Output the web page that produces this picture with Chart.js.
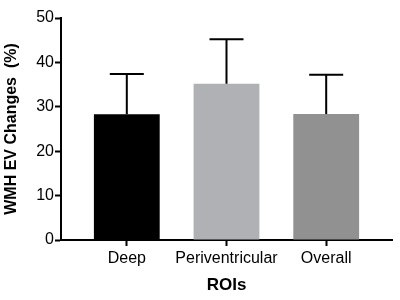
<!DOCTYPE html>
<html>
<head>
<meta charset="utf-8">
<script src="https://cdn.jsdelivr.net/npm/chart.js@4/dist/chart.umd.min.js"></script>
<style>
  html, body { margin: 0; padding: 0; background: #fff; }
  #wrap { width: 400px; height: 300px; }
</style>
</head>
<body>
<div id="wrap"><canvas id="grafico"></canvas></div>
<script>
// Datos
const categorias = ["Deep", "Periventricular", "Overall"];
const medias = [28.3, 35.2, 28.4];
const errores = [9.1, 10.0, 8.8];
const colores = ["#000000", "#b0b1b4", "#919191"];
const ticksY = [0, 10, 20, 30, 40, 50];

const fuente = "'Liberation Sans', Arial, Helvetica, sans-serif";

// Barras de error (solo hacia arriba, con tope)
const barrasError = {
  id: 'barrasError',
  afterDatasetsDraw(chart) {
    const { ctx, scales: { x, y } } = chart;
    ctx.save();
    ctx.strokeStyle = '#000';
    ctx.lineWidth = 2;
    medias.forEach((m, i) => {
      const px = x.getPixelForValue(i);
      const y0 = y.getPixelForValue(m);
      const y1 = y.getPixelForValue(m + errores[i]);
      ctx.beginPath();
      ctx.moveTo(px, y0);
      ctx.lineTo(px, y1);
      ctx.moveTo(px - 17, y1);
      ctx.lineTo(px + 17, y1);
      ctx.stroke();
    });
    ctx.restore();
  }
};

new Chart(document.getElementById('grafico'), {
  type: 'bar',
  data: {
    datasets: [{
      data: medias.map((v, i) => ({ x: i, y: v })),
      backgroundColor: colores,
      borderWidth: 0,
      barPercentage: 0.66,
      categoryPercentage: 1
    }]
  },
  options: {
    responsive: true,
    maintainAspectRatio: false,
    animation: false,
    layout: { padding: { top: 18, right: 8, left: 0, bottom: 0 } },
    plugins: {
      legend: { display: false },
      tooltip: { enabled: false }
    },
    scales: {
      x: {
        type: 'linear',
        offset: false,
        min: -0.66,
        max: 2.66,
        afterBuildTicks: (s) => { s.ticks = categorias.map((_, i) => ({ value: i })); },
        afterFit: (s) => { s.height = 60; },
        grid: { display: true, offset: false, drawOnChartArea: false, drawTicks: true, tickLength: 6, tickWidth: 2, tickColor: '#000' },
        border: { display: true, width: 2, color: '#000' },
        ticks: {
          autoSkip: false,
          maxRotation: 0,
          padding: 3,
          color: '#000',
          font: { family: fuente, size: 16 },
          callback: (v) => categorias[v] ?? ''
        },
        title: {
          display: true,
          text: 'ROIs',
          color: '#000',
          padding: { top: 0, bottom: 4 },
          font: { family: fuente, size: 17, weight: 'bold' }
        }
      },
      y: {
        min: 0,
        max: 50,
        afterBuildTicks: (s) => { s.ticks = ticksY.map(v => ({ value: v })); },
        afterFit: (s) => { s.width = 61; },
        grid: { display: true, drawOnChartArea: false, drawTicks: true, tickLength: 6, tickWidth: 2, tickColor: '#000' },
        border: { display: true, width: 2, color: '#000' },
        ticks: {
          padding: 1,
          color: '#000',
          font: { family: fuente, size: 16 }
        },
        title: {
          display: true,
          text: 'WMH EV Changes  (%)',
          color: '#000',
          padding: { top: 2, bottom: 0 },
          font: { family: fuente, size: 16, weight: 'bold' }
        }
      }
    }
  },
  plugins: [barrasError]
});
</script>
</body>
</html>
